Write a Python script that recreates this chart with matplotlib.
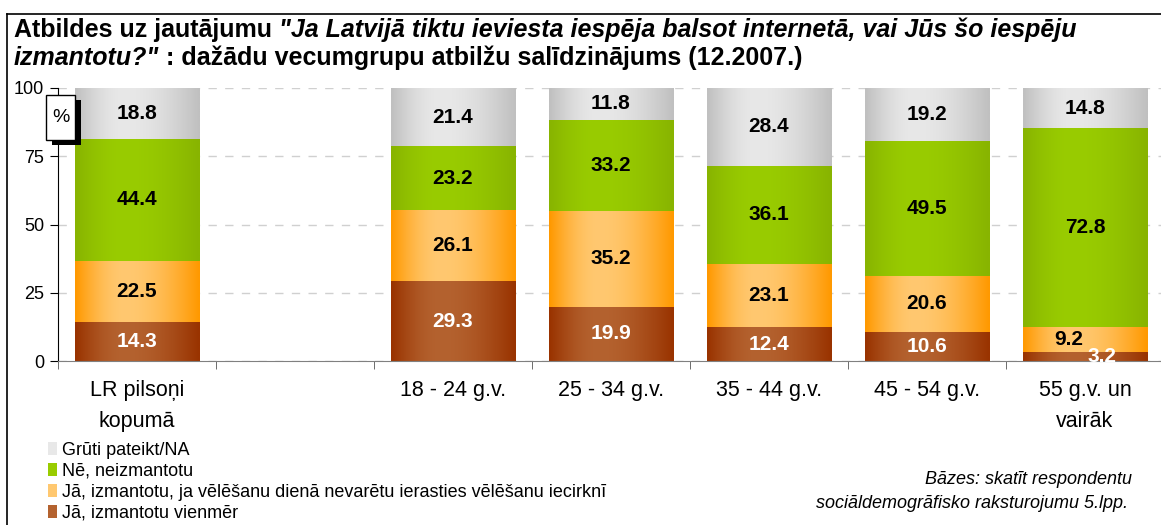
import matplotlib
matplotlib.use("Agg")
import matplotlib.pyplot as plt
from matplotlib.patches import Patch, Rectangle
from matplotlib.lines import Line2D
from matplotlib.colors import to_rgb
import numpy as np

plt.rcParams['font.family'] = ['Liberation Sans', 'DejaVu Sans']

categories = ["LR pilsoņi\nkopumā", "", "18 - 24 g.v.", "25 - 34 g.v.",
              "35 - 44 g.v.", "45 - 54 g.v.", "55 g.v. un\nvairāk"]
vienmer = [14.3, np.nan, 29.3, 19.9, 12.4, 10.6, 3.2]
nevaretu = [22.5, np.nan, 26.1, 35.2, 23.1, 20.6, 9.2]
neizmantotu = [44.4, np.nan, 23.2, 33.2, 36.1, 49.5, 72.8]
gruti = [18.8, np.nan, 21.4, 11.8, 28.4, 19.2, 14.8]
series = [vienmer, nevaretu, neizmantotu, gruti]
series_names = ["Jā, izmantotu vienmēr",
                "Jā, izmantotu, ja vēlēšanu dienā nevarētu ierasties vēlēšanu iecirknī",
                "Nē, neizmantotu",
                "Grūti pateikt/NA"]

edge_cols = ["#993300", "#ff9900", "#88b400", "#c0c0c0"]
mid_cols = ["#b4622f", "#ffc870", "#99cc00", "#e8e8e8"]
text_cols = ["white", "black", "black", "black"]

W, H = 1161, 525


def gradient(c0, c1, n=64):
    t = np.linspace(0, 1, n)
    w = np.where(t < 0.4, t / 0.4, (1 - t) / 0.6)
    w = np.sin(w * np.pi / 2)
    a = np.array(to_rgb(c0))
    b = np.array(to_rgb(c1))
    return (a + (b - a) * w[:, None])[None, :, :]


fig = plt.figure(figsize=(W / 100, H / 100), dpi=100)
ax = fig.add_axes([58 / W, 1 - 361 / H, 1106 / W, 273 / H])

x = np.arange(len(categories))
bottom = np.zeros(len(categories))
# small segments in the last bar get their labels nudged sideways
nudge = {(6, 0): 12, (6, 1): -12}
for si, (vals, ec, mc, tc) in enumerate(zip(series, edge_cols, mid_cols, text_cols)):
    vals = np.array(vals)
    bars = ax.bar(x, vals, width=0.785, bottom=bottom, color=ec, zorder=2, linewidth=0)
    for ci, (b, v) in enumerate(zip(bars, vals)):
        if np.isnan(v):
            continue
        x0, y0 = b.get_xy()
        ax.imshow(gradient(ec, mc), extent=(x0, x0 + b.get_width(), y0, y0 + b.get_height()),
                  aspect='auto', zorder=2.5, interpolation='bilinear')
        ax.annotate(f"{v:.1f}", (x0 + b.get_width() / 2, y0 + v / 2),
                    xytext=(nudge.get((ci, si), 0), 0), textcoords='offset points',
                    ha='center', va='center', fontsize=15, fontweight='bold',
                    color=tc, zorder=4)
    bottom = bottom + np.nan_to_num(vals)

ax.set_xlim(-0.5, 6.5)
ax.set_ylim(0, 100)
ax.set_yticks([0, 25, 50, 75, 100])
ax.yaxis.grid(True, linestyle=(0, (6, 6)), color='#d0d0d0', linewidth=1)
ax.set_axisbelow(True)
ax.set_xticks(x, categories, fontsize=15.5, linespacing=1.6)
ax.set_xticks(np.arange(-0.5, 7, 1), minor=True)
ax.tick_params(axis='x', which='major', length=0, pad=14)
ax.tick_params(axis='x', which='minor', length=6, color='#555555')
ax.tick_params(axis='y', length=6, labelsize=13, pad=4)
for s in ['top', 'right']:
    ax.spines[s].set_visible(False)
ax.spines['bottom'].set_color('#808080')
ax.spines['left'].set_color('black')

# "%" box with shadow
fig.add_artist(Rectangle((52 / W, 1 - 145 / H), 29 / W, 45 / H, transform=fig.transFigure,
                         facecolor='black', edgecolor='none', zorder=5))
fig.add_artist(Rectangle((46 / W, 1 - 140 / H), 29 / W, 45 / H, transform=fig.transFigure,
                         facecolor='white', edgecolor='black', linewidth=1, zorder=6))
fig.text(60.5 / W, 1 - 117 / H, "%", ha='center', va='center', fontsize=14, zorder=7)

# frame
fig.add_artist(Line2D([7 / W, 7 / W], [0, 1 - 14 / H], color='black', linewidth=1.2))
fig.add_artist(Line2D([7 / W, 1], [1 - 14 / H, 1 - 14 / H], color='black', linewidth=1.2))

# title made of bold and bold-italic pieces
renderer = fig.canvas.get_renderer()
title_lines = [
    [("Atbildes uz jautājumu ", 'normal'),
     ("\"Ja Latvijā tiktu ieviesta iespēja balsot internetā, vai Jūs šo iespēju", 'italic')],
    [("izmantotu?\"", 'italic'),
     (" : dažādu vecumgrupu atbilžu salīdzinājums (12.2007.)", 'normal')],
]
for li, pieces in enumerate(title_lines):
    xpos = 14
    ypos = 37 + li * 28
    for txt, style in pieces:
        t = fig.text(xpos / W, 1 - ypos / H, txt, fontsize=18, fontweight='bold',
                     style=style, ha='left', va='baseline')
        xpos += t.get_window_extent(renderer).width

# legend
handles = [Patch(facecolor=mc, edgecolor='none') for mc in mid_cols]
fig.legend(handles[::-1], series_names[::-1], loc='upper left',
           bbox_to_anchor=(48 / W, 1 - 442 / H), frameon=False, fontsize=13,
           handlelength=0.5, handleheight=0.7, handletextpad=0.3,
           labelspacing=0.22, borderpad=0, borderaxespad=0)

# base note
fig.text(1132 / W, 1 - 484 / H, "Bāzes: skatīt respondentu", ha='right', va='baseline',
         fontsize=13, style='italic')
fig.text(1128 / W, 1 - 508 / H, "sociāldemogrāfisko raksturojumu 5.lpp.", ha='right',
         va='baseline', fontsize=13, style='italic')

fig.savefig("out.png", dpi=100)
